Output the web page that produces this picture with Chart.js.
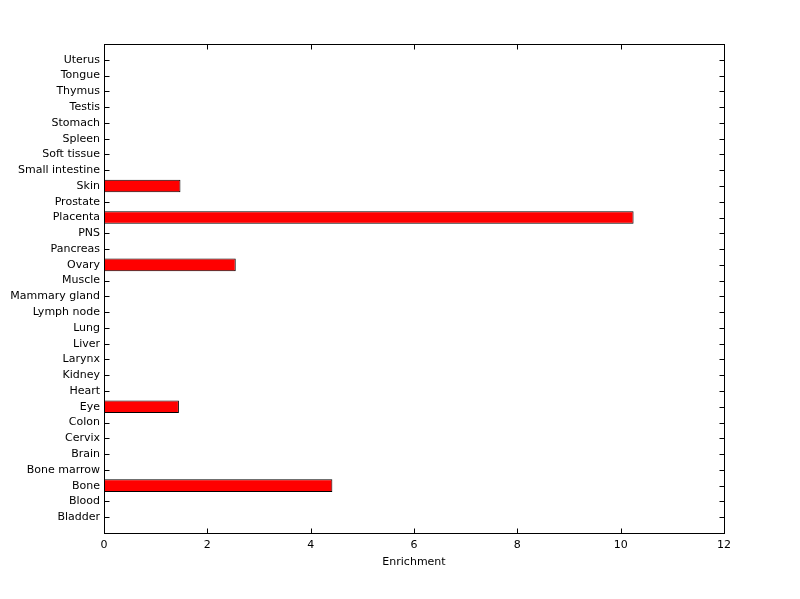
<!DOCTYPE html>
<html>
<head>
<meta charset="utf-8">
<script src="https://cdn.jsdelivr.net/npm/chart.js@4.4.1/dist/chart.umd.min.js"></script>
<style>
  html, body { margin: 0; padding: 0; background: #fff; }
  #wrap { width: 800px; height: 599px; position: relative; }
</style>
</head>
<body>
<div id="wrap"><canvas id="chart"></canvas></div>
<script>
// tissues, bottom to top
const tissues = [
  'Bladder', 'Blood', 'Bone', 'Bone marrow', 'Brain', 'Cervix', 'Colon', 'Eye',
  'Heart', 'Kidney', 'Larynx', 'Liver', 'Lung', 'Lymph node', 'Mammary gland',
  'Muscle', 'Ovary', 'Pancreas', 'PNS', 'Placenta', 'Prostate', 'Skin',
  'Small intestine', 'Soft tissue', 'Spleen', 'Stomach', 'Testis', 'Thymus',
  'Tongue', 'Uterus'
]
const enrichment = [
  0, 0, 4.42, 0, 0, 0, 0, 1.45,
  0, 0, 0, 0, 0, 0, 0,
  0, 2.55, 0, 0, 10.25, 0, 1.48,
  0, 0, 0, 0, 0, 0,
  0, 0
]
const xTicks = [0, 2, 4, 6, 8, 10, 12]

const font = { family: 'DejaVu Sans', size: 11 }

// matlab style box: inward ticks go under the bars, the frame on top
const boxPlugin = {
  id: 'box',
  beforeDatasetsDraw(chart) {
    const { ctx, chartArea: a, scales } = chart
    const L = Math.round(a.left) + 0.5, R = Math.round(a.right) + 0.5
    const T = Math.round(a.top) + 0.5, B = Math.round(a.bottom) + 0.5
    const tl = 5
    ctx.save()
    ctx.strokeStyle = '#000'
    ctx.lineWidth = 1
    ctx.beginPath()
    scales.y.ticks.forEach(t => {
      const py = Math.round(scales.y.getPixelForValue(t.value)) + 0.5
      ctx.moveTo(L, py); ctx.lineTo(L + tl, py)
      ctx.moveTo(R, py); ctx.lineTo(R - tl, py)
    })
    scales.x.ticks.forEach(t => {
      const px = Math.round(scales.x.getPixelForValue(t.value)) + 0.5
      ctx.moveTo(px, B); ctx.lineTo(px, B - tl)
      ctx.moveTo(px, T); ctx.lineTo(px, T + tl)
    })
    ctx.stroke()
    ctx.restore()
  },
  afterDraw(chart) {
    const { ctx, chartArea: a } = chart
    const L = Math.round(a.left) + 0.5, R = Math.round(a.right) + 0.5
    const T = Math.round(a.top) + 0.5, B = Math.round(a.bottom) + 0.5
    ctx.save()
    ctx.strokeStyle = '#000'
    ctx.lineWidth = 1
    ctx.strokeRect(L, T, R - L, B - T)
    ctx.restore()
  }
}

new Chart(document.getElementById('chart'), {
  type: 'bar',
  data: {
    datasets: [{
      data: tissues.map((t, i) => ({ x: enrichment[i], y: i + 1 })),
      backgroundColor: '#ff0000',
      borderColor: '#000000',
      borderWidth: 1,
      borderSkipped: false,
      categoryPercentage: 1,
      barPercentage: 0.8
    }]
  },
  options: {
    indexAxis: 'y',
    responsive: true,
    maintainAspectRatio: false,
    animation: false,
    layout: { padding: { left: 0, top: 44, right: 76, bottom: 0 } },
    scales: {
      x: {
        type: 'linear',
        min: 0,
        max: 12,
        afterBuildTicks: s => { s.ticks = xTicks.map(v => ({ value: v })) },
        afterFit: s => { s.height = 66 },
        grid: { display: false, drawTicks: false },
        border: { display: false },
        ticks: { color: '#000', font, padding: 6 },
        title: { display: true, text: 'Enrichment', color: '#000', font, padding: { top: 0, bottom: 30 } }
      },
      y: {
        type: 'linear',
        offset: false,
        min: 0,
        max: tissues.length + 1,
        afterBuildTicks: s => { s.ticks = tissues.map((t, i) => ({ value: i + 1 })) },
        afterFit: s => { s.width = 104 },
        grid: { display: false, drawTicks: false },
        border: { display: false },
        ticks: { color: '#000', font, padding: 4, autoSkip: false, callback: v => tissues[v - 1] }
      }
    },
    plugins: {
      legend: { display: false },
      tooltip: { enabled: false }
    }
  },
  plugins: [boxPlugin]
})
</script>
</body>
</html>
